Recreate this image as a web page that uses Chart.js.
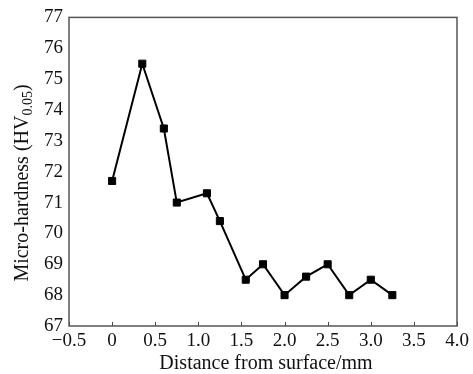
<!DOCTYPE html>
<html>
<head>
<meta charset="utf-8">
<script src="https://cdn.jsdelivr.net/npm/chart.js@4/dist/chart.umd.min.js"></script>
<style>
html,body{margin:0;padding:0;background:#fff;}
#wrap{width:473px;height:374px;position:relative;}
</style>
</head>
<body>
<div id="wrap"><canvas id="c" width="473" height="374"></canvas></div>
<script>
const distances = [0, 0.35, 0.6, 0.75, 1.1, 1.25, 1.55, 1.75, 2.0, 2.25, 2.5, 2.75, 3.0, 3.25];
const hardness  = [71.7, 75.5, 73.4, 71.0, 71.3, 70.4, 68.5, 69.0, 68.0, 68.6, 69.0, 68.0, 68.5, 68.0];
const xTickValues = [-0.5, 0, 0.5, 1.0, 1.5, 2.0, 2.5, 3.0, 3.5, 4.0];
const yTickValues = [67, 68, 69, 70, 71, 72, 73, 74, 75, 76, 77];
const xTitle = "Distance from surface/mm";
const yTitleMain = "Micro-hardness (HV";
const yTitleSub = "0.05";
const yTitleEnd = ")";

const FONT = "'Liberation Serif', 'Times New Roman', serif";

const framePlugin = {
  id: 'frame',
  afterDraw(chart) {
    const {ctx, chartArea: a, scales} = chart;
    ctx.save();
    ctx.strokeStyle = '#444';
    ctx.lineWidth = 1;
    xTickValues.forEach(v => {
      const px = Math.round(scales.x.getPixelForValue(v)) + 0.5;
      ctx.beginPath();
      ctx.moveTo(px, a.bottom);
      ctx.lineTo(px, a.bottom - 4);
      ctx.stroke();
    });
    ctx.strokeStyle = '#555';
    ctx.lineWidth = 1.5;
    ctx.strokeRect(a.left, a.top, a.right - a.left, a.bottom - a.top);
    ctx.fillStyle = '#111';
    ctx.font = '20px ' + FONT;
    ctx.textAlign = 'center';
    ctx.textBaseline = 'middle';
    ctx.fillText(xTitle, 266, 364);
    ctx.translate(23, 183);
    ctx.rotate(-Math.PI / 2);
    ctx.font = '20px ' + FONT;
    const w1 = ctx.measureText(yTitleMain).width;
    ctx.font = '14px ' + FONT;
    const w2 = ctx.measureText(yTitleSub).width;
    ctx.font = '20px ' + FONT;
    const w3 = ctx.measureText(yTitleEnd).width;
    let x0 = -(w1 + w2 + w3) / 2;
    ctx.textAlign = 'left';
    ctx.fillText(yTitleMain, x0, 0);
    ctx.font = '14px ' + FONT;
    ctx.fillText(yTitleSub, x0 + w1, 5);
    ctx.font = '20px ' + FONT;
    ctx.fillText(yTitleEnd, x0 + w1 + w2, 0);
    ctx.restore();
  }
};

new Chart(document.getElementById('c'), {
  type: 'scatter',
  data: {
    datasets: [{
      data: distances.map((d, i) => ({x: d, y: hardness[i]})),
      showLine: true,
      borderColor: '#000',
      backgroundColor: '#000',
      borderWidth: 2,
      pointStyle: 'rect',
      pointRadius: 5,
      pointBorderWidth: 1,
      pointBackgroundColor: '#000',
      pointBorderColor: '#000',
      tension: 0
    }]
  },
  options: {
    responsive: false,
    animation: false,
    devicePixelRatio: 1,
    layout: {padding: {left: 0, top: 13, right: 16, bottom: 0}},
    plugins: {legend: {display: false}, tooltip: {enabled: false}},
    scales: {
      x: {
        type: 'linear',
        min: -0.5, max: 4.0,
        afterBuildTicks: s => { s.ticks = xTickValues.map(v => ({value: v})); },
        afterFit: s => { s.height = 48; },
        grid: {display: false, drawTicks: false},
        border: {display: false},
        ticks: {
          padding: 4,
          color: '#111',
          font: {family: FONT, size: 19},
          maxRotation: 0,
          autoSkip: false,
          callback: v => v === 0 ? '0' : (v < 0 ? '\u2212' + Math.abs(v).toFixed(1) : v.toFixed(1))
        }
      },
      y: {
        min: 67, max: 77,
        afterBuildTicks: s => { s.ticks = yTickValues.map(v => ({value: v})); },
        afterFit: s => { s.width = 69; },
        grid: {display: false, drawTicks: false},
        border: {display: false},
        ticks: {
          padding: 6,
          color: '#111',
          font: {family: FONT, size: 19},
          autoSkip: false,
          callback: v => String(v)
        }
      }
    }
  },
  plugins: [framePlugin]
});
</script>
</body>
</html>
